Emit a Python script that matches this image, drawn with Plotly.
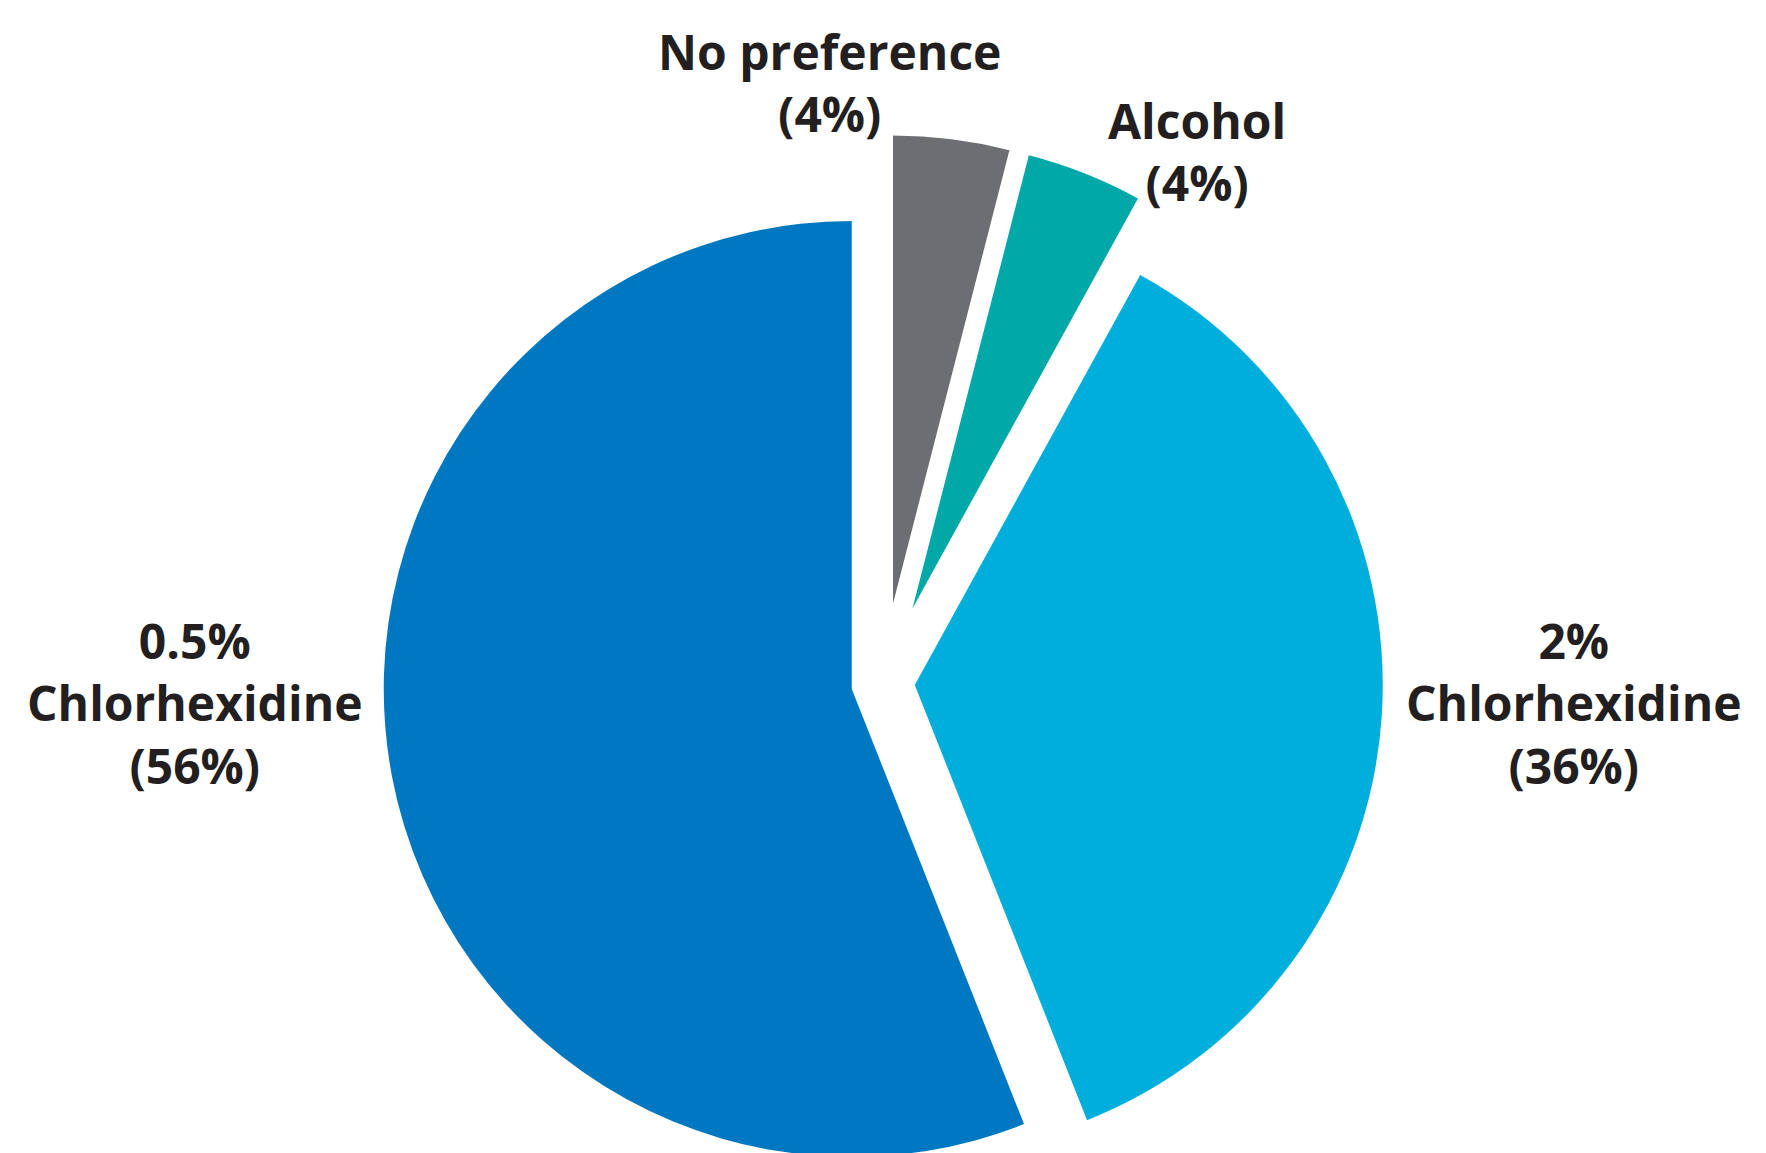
import math
import plotly.graph_objects as go

# ---- data ----
categories = ["No preference", "Alcohol", "2% Chlorhexidine", "0.5% Chlorhexidine"]
label_lines = [["No preference"], ["Alcohol"], ["2%", "Chlorhexidine"], ["0.5%", "Chlorhexidine"]]
values = [4, 4, 36, 56]

# ---- style ----
colors = ["#6C6E72", "#00A9A8", "#00AEDB", "#0078C1"]
pulls = [0.171, 0.171, 0.068, 0.068]
W, H = 1766, 1153
CX, CY, R = 875, 675, 468  # pie centre / radius in pixels (style)
label_pos = [(821, 75), (1189, 143), (1566, 695), (187, 695)]  # centre x, centre y of block
text_color = "#231F20"
font_family = "Open Sans"

fig = go.Figure()
total = sum(values)
cum = 0.0
for i, v in enumerate(values):
    mid = (cum + v / 2) / total * 2 * math.pi
    cum += v
    d = pulls[i] * R
    cx = CX + d * math.sin(mid)
    cy = CY - d * math.cos(mid)
    dom_x = [max(0, (cx - R) / W), min(1, (cx + R) / W)]
    dom_y = [max(0, 1 - (cy + R) / H), min(1, 1 - (cy - R) / H)]
    slice_colors = [colors[j] if j == i else "rgba(0,0,0,0)" for j in range(len(values))]
    fig.add_trace(go.Pie(
        labels=categories,
        values=values,
        sort=False,
        direction="clockwise",
        rotation=0,
        marker=dict(colors=slice_colors, line=dict(width=0)),
        textinfo="none",
        hoverinfo="label+percent",
        showlegend=False,
        domain=dict(x=dom_x, y=dom_y),
    ))

for i, lines in enumerate(label_lines):
    text = "<br>".join(lines + [f"({values[i]}%)"])
    x0, y0 = label_pos[i]
    fig.add_annotation(
        x=x0 / W, y=1 - y0 / H, xref="paper", yref="paper",
        xanchor="center", yanchor="middle", align="center", showarrow=False,
        text=text,
        font=dict(family=font_family, size=48, color=text_color, weight="bold"),
    )

fig.update_layout(
    width=W, height=H,
    margin=dict(l=0, r=0, t=0, b=0),
    paper_bgcolor="white",
    plot_bgcolor="white",
)

fig.write_html("out.html")
